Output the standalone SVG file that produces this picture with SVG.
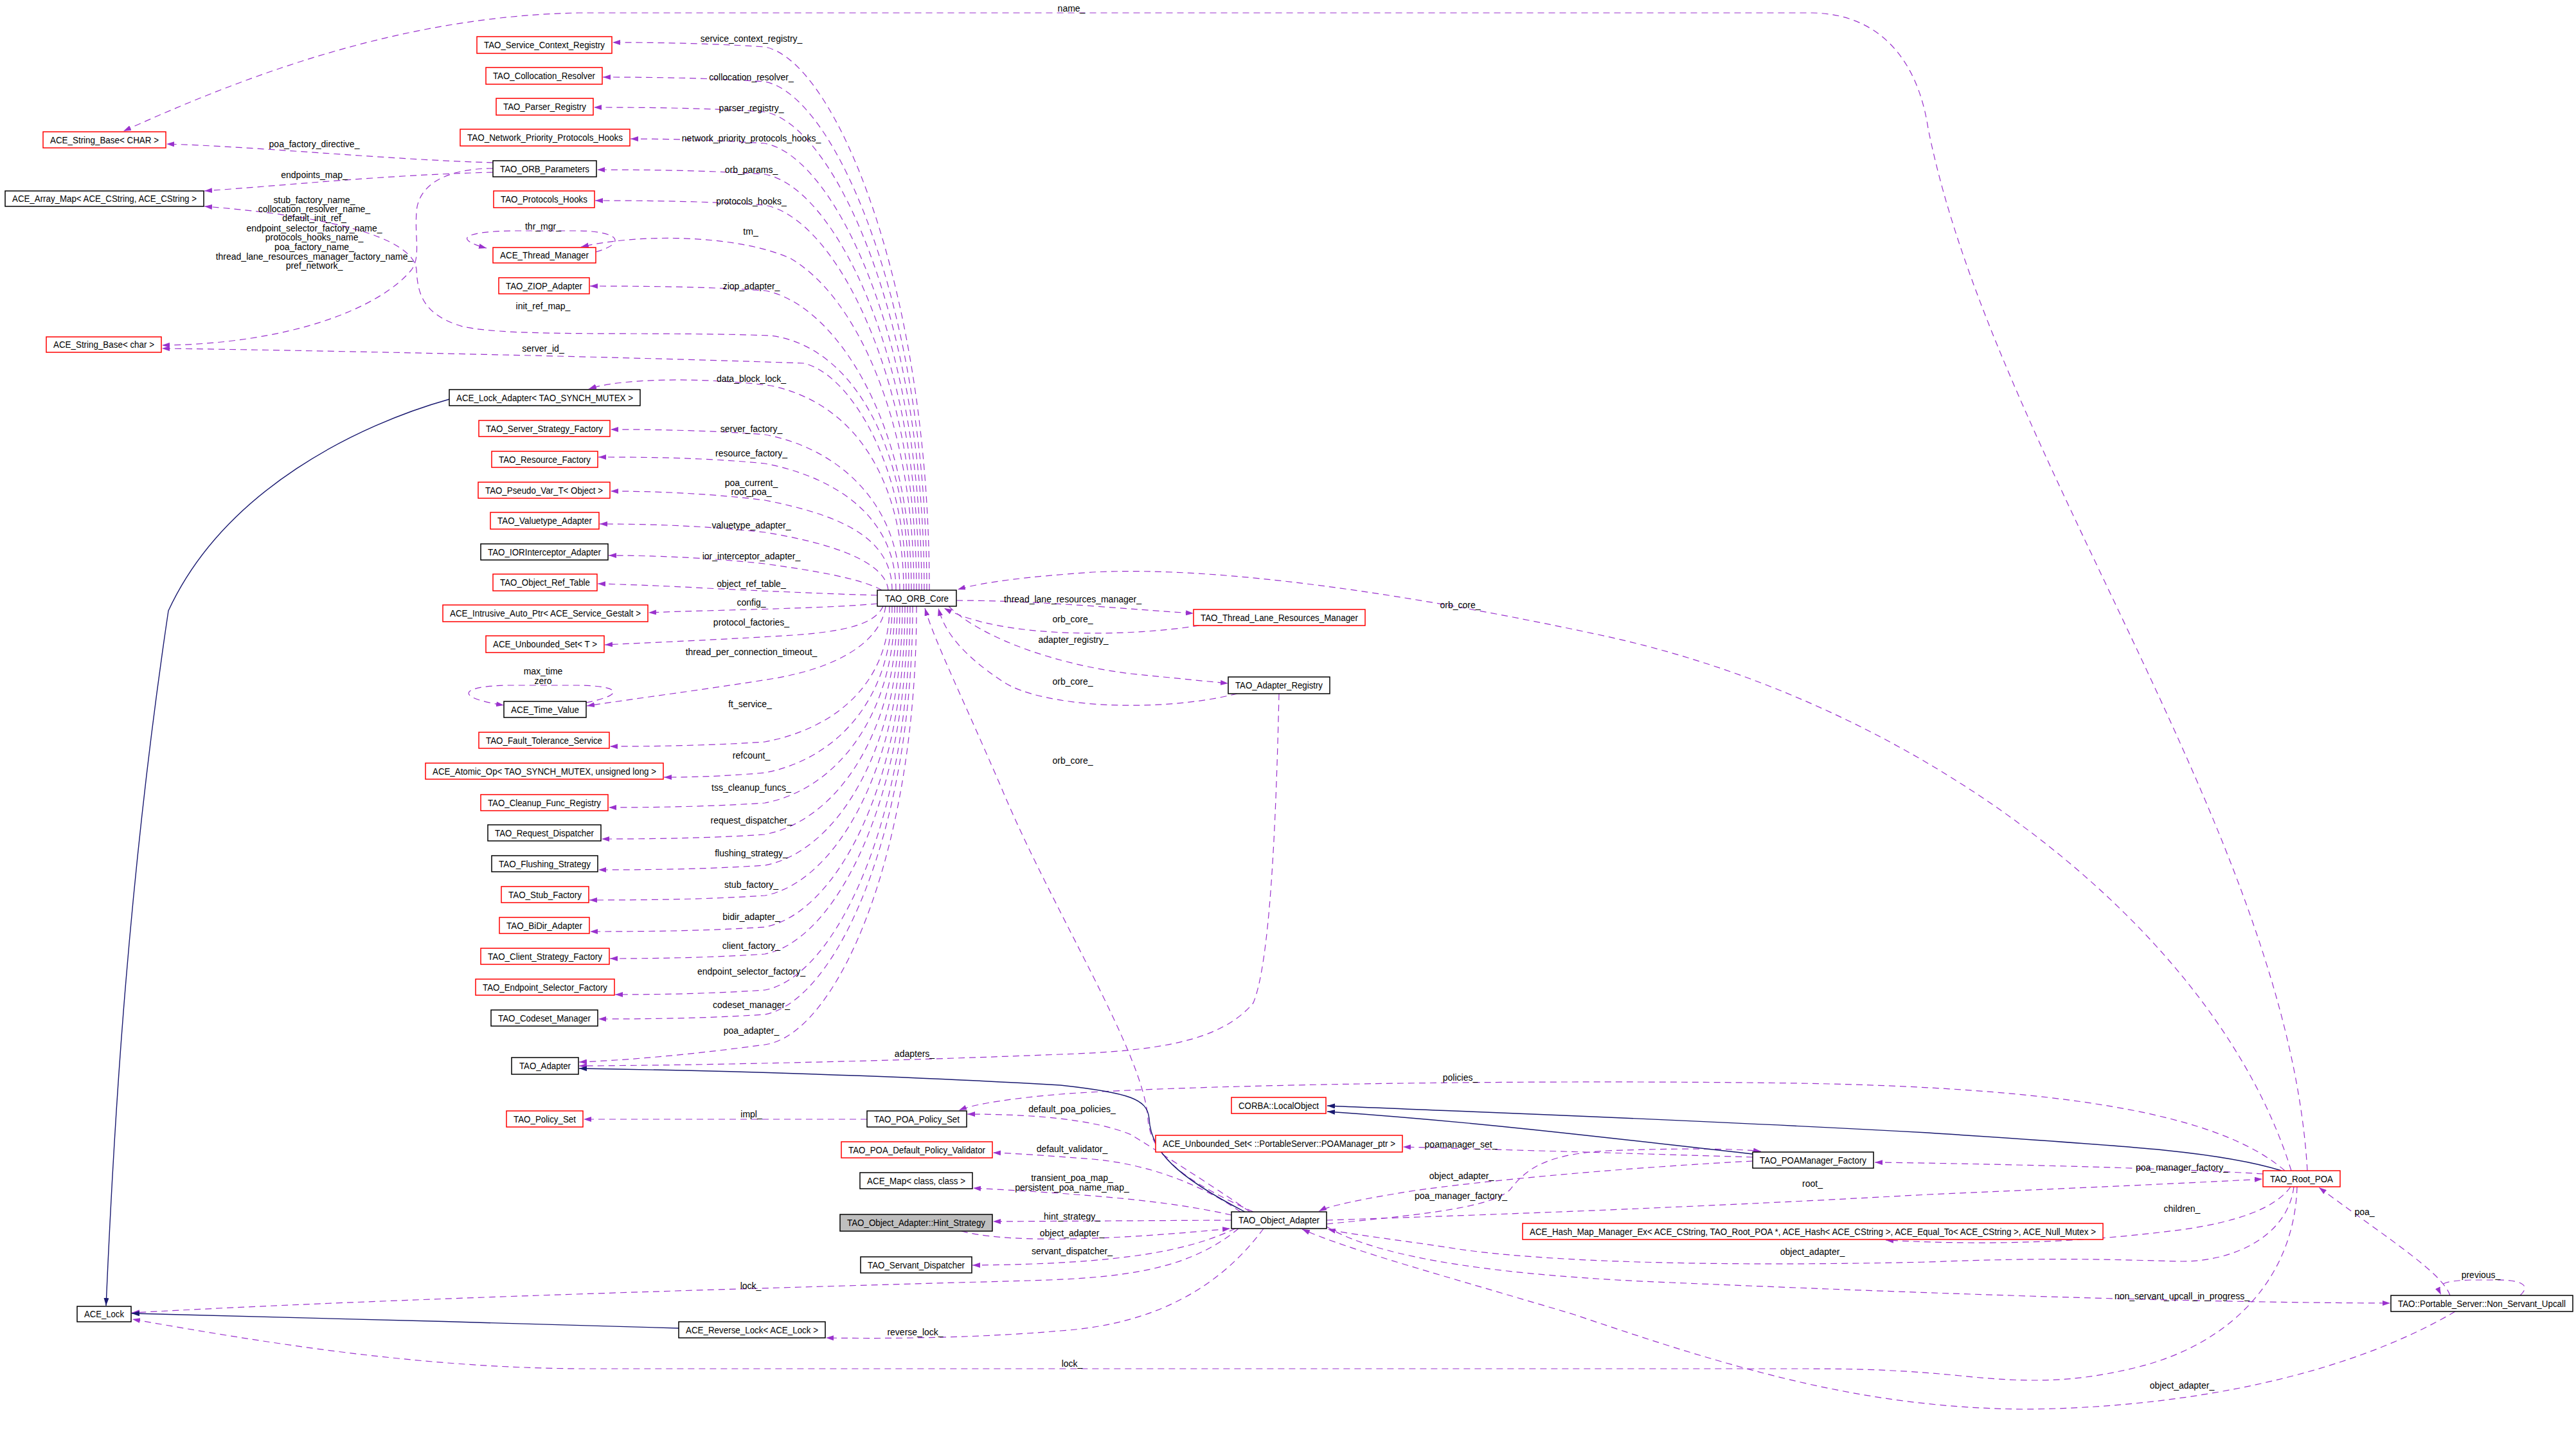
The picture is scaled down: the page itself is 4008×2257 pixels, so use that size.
<svg xmlns="http://www.w3.org/2000/svg" width="4008" height="2257" viewBox="0 0 4008 2257">
<style>
text{font-family:"Liberation Sans",Arial,sans-serif;font-size:14px;fill:#000}
.node text{text-anchor:middle}
.nr rect{fill:#fff;stroke:#ff0000;stroke-width:1.5}
.nb rect{fill:#fff;stroke:#000;stroke-width:1.5}
.nf rect{fill:#bfbfbf;stroke:#000;stroke-width:1.5}
.e{fill:none;stroke:#9a32cd;stroke-width:1.2;stroke-dasharray:10,7;marker-end:url(#ap)}
.i{fill:none;stroke:#191970;stroke-width:1.4;marker-end:url(#an)}
#edge-labels text{text-anchor:middle}
</style>
<defs>
<marker id="ap" viewBox="0 0 12 8" refX="12" refY="4" markerWidth="12" markerHeight="8" markerUnits="userSpaceOnUse" orient="auto"><path d="M0,0 L12,4 L0,8 z" fill="#9a32cd"/></marker>
<marker id="an" viewBox="0 0 12 8" refX="12" refY="4" markerWidth="12" markerHeight="8" markerUnits="userSpaceOnUse" orient="auto"><path d="M0,0 L12,4 L0,8 z" fill="#191970"/></marker>
</defs>
<rect width="4008" height="2257" fill="#fff"/>

<g id="edges">
<!-- Root_POA name_ -->
<path class="e" d="M3590,1821 C3560,1300 3100,700 3000,200 C2985,100 2930,22 2820,20 L900,20 C650,25 420,100 192,204"/>
<!-- ORB_Parameters edges -->
<path class="e" d="M767,253 C600,248 400,228 259,224"/>
<path class="e" d="M767,268 C600,272 450,288 318,297"/>
<path class="e" d="M767,262 C690,262 650,290 648,330 C645,370 655,400 640,420 C590,480 450,535 252,537"/>
<!-- ORB_Core upper -->
<path class="e" d="M1446,918 C1446,449 1300,94 1190,73 C1100,67 1010,66 953,66"/>
<path class="e" d="M1442,918 C1442,479 1300,148 1190,127 C1100,121 1010,120 938,120"/>
<path class="e" d="M1438,918 C1438,505 1300,195 1190,174 C1100,168 1010,167 924,167"/>
<path class="e" d="M1434,918 C1434,532 1300,244 1190,223 C1100,217 1030,216 981,216"/>
<path class="e" d="M1430,918 C1430,558 1300,292 1190,271 C1100,265 1010,264 929,264"/>
<path class="e" d="M1426,918 C1426,585 1300,340 1190,319 C1100,313 1010,312 926,312"/>
<path class="e" d="M1422,918 C1422,650 1330,460 1230,402 C1150,366 1000,362 904,384"/>
<path class="e" d="M1418,918 C1418,658 1300,473 1190,452 C1100,446 1010,445 918,445"/>
<path class="e" d="M1414,918 C1414,700 1330,540 1200,522 C1000,515 800,525 720,508 C660,490 650,460 648,420 C645,380 560,340 318,321"/>
<path class="e" d="M1410,918 C1410,720 1320,580 1250,565 C1000,556 500,545 252,542"/>
<path class="e" d="M1406,918 C1406,760 1340,630 1200,600 C1080,585 960,590 916,605"/>
<path class="e" d="M1400,918 C1400,780 1300,696 1190,676 C1100,669 1010,668 950,668"/>
<path class="e" d="M1394,918 C1394,804 1300,742 1190,721 C1100,712 1010,711 931,711"/>
<path class="e" d="M1388,918 C1388,833 1300,800 1190,778 C1100,767 1010,764 950,764"/>
<path class="e" d="M1382,918 C1378,875 1300,846 1190,828 C1100,818 1010,815 933,815"/>
<path class="e" d="M1372,918 C1340,900 1270,888 1190,877 C1100,867 1010,864 947,864"/>
<path class="e" d="M1365,926 C1300,924 1200,920 1100,915 C1030,911 970,909 930,908"/>
<path class="e" d="M1365,939 C1300,945 1200,947 1100,950 C1060,951 1030,952 1009,953"/>
<path class="e" d="M1374,943 C1360,975 1300,985 1200,990 C1100,996 1000,1000 941,1003"/>
<path class="e" d="M1378,943 C1370,1000 1300,1040 1200,1056 C1100,1072 1000,1085 913,1098"/>
<!-- self loops -->
<path class="e" d="M927,392 C975,378 965,360 900,359 L800,359 C720,360 705,372 757,386"/>
<path class="e" d="M912,1093 C975,1080 965,1067 900,1066 L790,1066 C715,1067 705,1085 784,1097"/>
<!-- ORB_Core lower -->
<path class="e" d="M1384,943 C1384,1063 1300,1133 1190,1154 C1100,1160 1010,1161 949,1161"/>
<path class="e" d="M1388,943 C1388,1089 1300,1181 1190,1202 C1120,1208 1070,1209 1033,1209"/>
<path class="e" d="M1392,943 C1392,1115 1300,1228 1190,1249 C1100,1255 1010,1256 947,1256"/>
<path class="e" d="M1396,943 C1396,1142 1300,1277 1190,1298 C1100,1304 1010,1305 936,1305"/>
<path class="e" d="M1400,943 C1400,1169 1300,1325 1190,1346 C1100,1352 1010,1353 931,1353"/>
<path class="e" d="M1404,943 C1404,1194 1300,1372 1190,1393 C1100,1399 1010,1400 917,1400"/>
<path class="e" d="M1408,943 C1408,1221 1300,1421 1190,1442 C1100,1448 1010,1449 918,1449"/>
<path class="e" d="M1412,943 C1412,1244 1300,1463 1190,1484 C1100,1490 1010,1491 949,1491"/>
<path class="e" d="M1416,943 C1416,1275 1300,1519 1190,1540 C1100,1546 1020,1547 957,1547"/>
<path class="e" d="M1420,943 C1420,1296 1300,1557 1190,1578 C1100,1584 1010,1585 931,1585"/>
<path class="e" d="M1426,943 C1426,1333 1300,1610 1190,1625 C1100,1637 1000,1648 901,1652"/>
<!-- ORB_Core right side -->
<path class="e" d="M1488,934 C1620,934 1760,948 1857,954"/>
<path class="e" d="M1866,973 C1760,990 1560,995 1469,946"/>
<path class="e" d="M1476,943 C1530,995 1650,1035 1760,1048 C1830,1055 1880,1060 1911,1063"/>
<path class="e" d="M1925,1079 C1800,1110 1620,1100 1560,1060 C1500,1020 1470,985 1460,946"/>
<path class="e" d="M1990,1079 C1985,1300 1975,1500 1950,1560 C1900,1620 1800,1635 1650,1640 C1400,1650 1100,1657 901,1658"/>
<path class="e" d="M1950,1885 C1850,1840 1790,1800 1786,1740 C1780,1640 1640,1420 1560,1230 C1500,1090 1455,1000 1439,946"/>
<path class="e" d="M3565,1821 C3450,1450 3000,1100 2500,990 C2200,925 1900,880 1700,890 C1600,897 1530,905 1490,917"/>
<!-- POA policy set -->
<path class="e" d="M1349,1741 L908,1741"/>
<path class="e" d="M3555,1821 C3450,1730 3200,1692 2800,1685 C2300,1678 1800,1690 1650,1702 C1580,1708 1520,1716 1492,1727"/>
<!-- Object_Adapter left targets -->
<path class="e" d="M1945,1885 C1880,1840 1800,1790 1760,1765 C1700,1740 1600,1733 1505,1733"/>
<path class="e" d="M1930,1885 C1880,1850 1800,1812 1700,1803 C1620,1797 1580,1794 1545,1793"/>
<path class="e" d="M1916,1890 C1820,1868 1700,1858 1514,1848"/>
<path class="e" d="M1916,1898 L1545,1900"/>
<path class="e" d="M1496,1915 C1560,1932 1700,1932 1914,1911"/>
<path class="e" d="M1922,1911 C1850,1945 1750,1966 1513,1968"/>
<path class="e" d="M1927,1911 C1850,1975 1750,1988 1600,1992 C1200,2003 600,2020 205,2042"/>
<path class="e" d="M1966,1911 C1900,2000 1800,2060 1650,2070 C1500,2083 1350,2082 1285,2081"/>
<!-- POAManager factory etc -->
<path class="e" d="M2727,1800 C2600,1796 2400,1790 2183,1784"/>
<path class="e" d="M2727,1806 C2500,1818 2300,1838 2200,1852 C2120,1865 2070,1875 2052,1884"/>
<path class="e" d="M2064,1904 C2200,1890 2320,1880 2350,1850 C2380,1810 2420,1795 2500,1790 C2600,1786 2700,1786 2740,1791"/>
<path class="e" d="M2064,1898 C2300,1890 2600,1880 3000,1858 C3300,1845 3450,1838 3520,1834"/>
<path class="e" d="M3521,1826 C3400,1818 3100,1810 2917,1808"/>
<path class="e" d="M3564,1846 C3540,1880 3480,1900 3400,1912 C3250,1932 3100,1938 2934,1929"/>
<path class="e" d="M3569,1846 C3560,1920 3480,1962 3395,1962 C3300,1960 3200,1955 3000,1963 C2700,1970 2400,1965 2250,1940 C2150,1925 2100,1920 2066,1912"/>
<path class="e" d="M2064,1908 C2150,1960 2350,1985 2600,1995 C3000,2012 3400,2026 3719,2027"/>
<path class="e" d="M3574,1846 C3570,1980 3480,2090 3320,2128 C3220,2152 3150,2150 3050,2140 C2950,2130 2880,2129 2800,2129 L900,2129 C650,2127 420,2090 206,2052"/>
<path class="e" d="M3820,2040 C3650,2140 3400,2190 3150,2192 C2900,2190 2700,2130 2450,2045 C2250,1985 2100,1945 2026,1912"/>
<path class="e" d="M3812,2015 C3800,1980 3720,1930 3608,1847"/>
<path class="e" d="M3921,2015 C3940,1998 3920,1990 3880,1991 L3845,1991 C3800,1992 3790,1998 3798,2014"/>
<!-- inheritance -->
<path class="i" d="M1937,1885 C1830,1830 1790,1790 1788,1740 C1785,1710 1760,1700 1650,1688 C1400,1673 1100,1665 901,1662"/>
<path class="i" d="M2727,1795 C2500,1770 2300,1745 2065,1729"/>
<path class="i" d="M3550,1821 C3450,1790 3300,1782 3000,1762 C2600,1740 2300,1730 2065,1720"/>
<path class="i" d="M699,621 C560,660 350,760 262,950 C195,1400 175,1800 165,2031"/>
<path class="i" d="M1056,2066 C800,2058 400,2048 205,2043"/>
</g>

<g id="edge-labels">
<text x="1667" y="18">name_</text>
<text x="489" y="229">poa_factory_directive_</text>
<text x="489" y="277">endpoints_map_</text>
<text x="489" y="316">stub_factory_name_</text>
<text x="489" y="330">collocation_resolver_name_</text>
<text x="489" y="344">default_init_ref_</text>
<text x="489" y="360">endpoint_selector_factory_name_</text>
<text x="489" y="374">protocols_hooks_name_</text>
<text x="489" y="389">poa_factory_name_</text>
<text x="489" y="404">thread_lane_resources_manager_factory_name_</text>
<text x="489" y="418">pref_network_</text>
<text x="1169" y="65">service_context_registry_</text>
<text x="1169" y="125">collocation_resolver_</text>
<text x="1169" y="173">parser_registry_</text>
<text x="1169" y="220">network_priority_protocols_hooks_</text>
<text x="1169" y="269">orb_params_</text>
<text x="1169" y="318">protocols_hooks_</text>
<text x="845" y="357">thr_mgr_</text>
<text x="1168" y="365">tm_</text>
<text x="1169" y="450">ziop_adapter_</text>
<text x="845" y="481">init_ref_map_</text>
<text x="845" y="547">server_id_</text>
<text x="1169" y="594">data_block_lock_</text>
<text x="1169" y="672">server_factory_</text>
<text x="1169" y="710">resource_factory_</text>
<text x="1169" y="756">poa_current_</text>
<text x="1169" y="770">root_poa_</text>
<text x="1169" y="822">valuetype_adapter_</text>
<text x="1169" y="870">ior_interceptor_adapter_</text>
<text x="1169" y="913">object_ref_table_</text>
<text x="1169" y="942">config_</text>
<text x="1169" y="973">protocol_factories_</text>
<text x="1169" y="1019">thread_per_connection_timeout_</text>
<text x="845" y="1049">max_time</text>
<text x="845" y="1064">zero</text>
<text x="1167" y="1100">ft_service_</text>
<text x="1169" y="1180">refcount_</text>
<text x="1169" y="1230">tss_cleanup_funcs_</text>
<text x="1169" y="1281">request_dispatcher_</text>
<text x="1169" y="1332">flushing_strategy_</text>
<text x="1169" y="1381">stub_factory_</text>
<text x="1169" y="1431">bidir_adapter_</text>
<text x="1169" y="1476">client_factory_</text>
<text x="1169" y="1516">endpoint_selector_factory_</text>
<text x="1169" y="1568">codeset_manager_</text>
<text x="1169" y="1608">poa_adapter_</text>
<text x="1423" y="1644">adapters_</text>
<text x="1169" y="1738">impl_</text>
<text x="1168" y="2005">lock_</text>
<text x="1424" y="2077">reverse_lock_</text>
<text x="1669" y="937">thread_lane_resources_manager_</text>
<text x="1669" y="968">orb_core_</text>
<text x="1670" y="1000">adapter_registry_</text>
<text x="1669" y="1065">orb_core_</text>
<text x="1669" y="1188">orb_core_</text>
<text x="2272" y="946">orb_core_</text>
<text x="2272" y="1681">policies_</text>
<text x="1668" y="1730">default_poa_policies_</text>
<text x="1668" y="1792">default_validator_</text>
<text x="1668" y="1837">transient_poa_map_</text>
<text x="1668" y="1852">persistent_poa_name_map_</text>
<text x="1668" y="1897">hint_strategy_</text>
<text x="1668" y="1923">object_adapter_</text>
<text x="1668" y="1951">servant_dispatcher_</text>
<text x="2273" y="1785">poamanager_set_</text>
<text x="2274" y="1834">object_adapter_</text>
<text x="2273" y="1865">poa_manager_factory_</text>
<text x="2820" y="1846">root_</text>
<text x="2820" y="1952">object_adapter_</text>
<text x="3395" y="1821">poa_manager_factory_</text>
<text x="3395" y="1885">children_</text>
<text x="3679" y="1890">poa_</text>
<text x="3860" y="1988">previous_</text>
<text x="3395" y="2021">non_servant_upcall_in_progress_</text>
<text x="3395" y="2160">object_adapter_</text>
<text x="1668" y="2126">lock_</text>
</g>

<g id="n_ACE_String_Base_CHAR" class="node nr"><rect x="67" y="205" width="191" height="25"/><text x="162.5" y="222.5" textLength="169" lengthAdjust="spacingAndGlyphs">ACE_String_Base&lt; CHAR &gt;</text></g>
<g id="n_ACE_Array_Map" class="node nb"><rect x="8" y="297" width="309" height="24"/><text x="162.5" y="314" textLength="287" lengthAdjust="spacingAndGlyphs">ACE_Array_Map&lt; ACE_CString, ACE_CString &gt;</text></g>
<g id="n_ACE_String_Base_char" class="node nr"><rect x="72" y="524" width="179" height="24"/><text x="161.5" y="541" textLength="157" lengthAdjust="spacingAndGlyphs">ACE_String_Base&lt; char &gt;</text></g>
<g id="n_ACE_Lock" class="node nb"><rect x="120" y="2032" width="84" height="24"/><text x="162" y="2049" textLength="62" lengthAdjust="spacingAndGlyphs">ACE_Lock</text></g>

<g id="n_TAO_Service_Context_Registry" class="node nr"><rect x="742" y="57" width="210" height="26"/><text x="847" y="75" textLength="188" lengthAdjust="spacingAndGlyphs">TAO_Service_Context_Registry</text></g>
<g id="n_TAO_Collocation_Resolver" class="node nr"><rect x="756" y="105" width="181" height="26"/><text x="846.5" y="123" textLength="159" lengthAdjust="spacingAndGlyphs">TAO_Collocation_Resolver</text></g>
<g id="n_TAO_Parser_Registry" class="node nr"><rect x="772" y="153" width="151" height="26"/><text x="847.5" y="171" textLength="129" lengthAdjust="spacingAndGlyphs">TAO_Parser_Registry</text></g>
<g id="n_TAO_Network_Priority_Protocols_Hooks" class="node nr"><rect x="716" y="201" width="264" height="26"/><text x="848" y="219" textLength="242" lengthAdjust="spacingAndGlyphs">TAO_Network_Priority_Protocols_Hooks</text></g>
<g id="n_TAO_ORB_Parameters" class="node nb"><rect x="767" y="250" width="161" height="25"/><text x="847.5" y="267.5" textLength="139" lengthAdjust="spacingAndGlyphs">TAO_ORB_Parameters</text></g>
<g id="n_TAO_Protocols_Hooks" class="node nr"><rect x="768" y="297" width="157" height="26"/><text x="846.5" y="315" textLength="135" lengthAdjust="spacingAndGlyphs">TAO_Protocols_Hooks</text></g>
<g id="n_ACE_Thread_Manager" class="node nr"><rect x="767" y="385" width="160" height="24"/><text x="847" y="402" textLength="138" lengthAdjust="spacingAndGlyphs">ACE_Thread_Manager</text></g>
<g id="n_TAO_ZIOP_Adapter" class="node nr"><rect x="776" y="432" width="141" height="25"/><text x="846.5" y="449.5" textLength="119" lengthAdjust="spacingAndGlyphs">TAO_ZIOP_Adapter</text></g>
<g id="n_ACE_Lock_Adapter" class="node nb"><rect x="699" y="606" width="297" height="25"/><text x="847.5" y="623.5" textLength="275" lengthAdjust="spacingAndGlyphs">ACE_Lock_Adapter&lt; TAO_SYNCH_MUTEX &gt;</text></g>
<g id="n_TAO_Server_Strategy_Factory" class="node nr"><rect x="745" y="654" width="204" height="25"/><text x="847" y="671.5" textLength="182" lengthAdjust="spacingAndGlyphs">TAO_Server_Strategy_Factory</text></g>
<g id="n_TAO_Resource_Factory" class="node nr"><rect x="765" y="702" width="165" height="25"/><text x="847.5" y="719.5" textLength="143" lengthAdjust="spacingAndGlyphs">TAO_Resource_Factory</text></g>
<g id="n_TAO_Pseudo_Var_T" class="node nr"><rect x="744" y="750" width="205" height="25"/><text x="846.5" y="767.5" textLength="183" lengthAdjust="spacingAndGlyphs">TAO_Pseudo_Var_T&lt; Object &gt;</text></g>
<g id="n_TAO_Valuetype_Adapter" class="node nr"><rect x="763" y="797" width="169" height="26"/><text x="847.5" y="815" textLength="147" lengthAdjust="spacingAndGlyphs">TAO_Valuetype_Adapter</text></g>
<g id="n_TAO_IORInterceptor_Adapter" class="node nb"><rect x="748" y="846" width="198" height="25"/><text x="847" y="863.5" textLength="176" lengthAdjust="spacingAndGlyphs">TAO_IORInterceptor_Adapter</text></g>
<g id="n_TAO_Object_Ref_Table" class="node nr"><rect x="767" y="893" width="162" height="26"/><text x="848" y="911" textLength="140" lengthAdjust="spacingAndGlyphs">TAO_Object_Ref_Table</text></g>
<g id="n_ACE_Intrusive_Auto_Ptr" class="node nr"><rect x="689" y="941" width="319" height="26"/><text x="848.5" y="959" textLength="297" lengthAdjust="spacingAndGlyphs">ACE_Intrusive_Auto_Ptr&lt; ACE_Service_Gestalt &gt;</text></g>
<g id="n_ACE_Unbounded_Set_T" class="node nr"><rect x="756" y="989" width="184" height="26"/><text x="848" y="1007" textLength="162" lengthAdjust="spacingAndGlyphs">ACE_Unbounded_Set&lt; T &gt;</text></g>
<g id="n_ACE_Time_Value" class="node nb"><rect x="784" y="1091" width="128" height="25"/><text x="848" y="1108.5" textLength="106" lengthAdjust="spacingAndGlyphs">ACE_Time_Value</text></g>
<g id="n_TAO_Fault_Tolerance_Service" class="node nr"><rect x="745" y="1139" width="203" height="25"/><text x="846.5" y="1156.5" textLength="181" lengthAdjust="spacingAndGlyphs">TAO_Fault_Tolerance_Service</text></g>
<g id="n_ACE_Atomic_Op" class="node nr"><rect x="662" y="1187" width="370" height="25"/><text x="847" y="1204.5" textLength="348" lengthAdjust="spacingAndGlyphs">ACE_Atomic_Op&lt; TAO_SYNCH_MUTEX, unsigned long &gt;</text></g>
<g id="n_TAO_Cleanup_Func_Registry" class="node nr"><rect x="748" y="1236" width="198" height="25"/><text x="847" y="1253.5" textLength="176" lengthAdjust="spacingAndGlyphs">TAO_Cleanup_Func_Registry</text></g>
<g id="n_TAO_Request_Dispatcher" class="node nb"><rect x="759" y="1283" width="176" height="25"/><text x="847" y="1300.5" textLength="154" lengthAdjust="spacingAndGlyphs">TAO_Request_Dispatcher</text></g>
<g id="n_TAO_Flushing_Strategy" class="node nb"><rect x="765" y="1331" width="165" height="25"/><text x="847.5" y="1348.5" textLength="143" lengthAdjust="spacingAndGlyphs">TAO_Flushing_Strategy</text></g>
<g id="n_TAO_Stub_Factory" class="node nr"><rect x="780" y="1379" width="136" height="25"/><text x="848" y="1396.5" textLength="114" lengthAdjust="spacingAndGlyphs">TAO_Stub_Factory</text></g>
<g id="n_TAO_BiDir_Adapter" class="node nr"><rect x="777" y="1427" width="140" height="25"/><text x="847" y="1444.5" textLength="118" lengthAdjust="spacingAndGlyphs">TAO_BiDir_Adapter</text></g>
<g id="n_TAO_Client_Strategy_Factory" class="node nr"><rect x="748" y="1475" width="200" height="25"/><text x="848" y="1492.5" textLength="178" lengthAdjust="spacingAndGlyphs">TAO_Client_Strategy_Factory</text></g>
<g id="n_TAO_Endpoint_Selector_Factory" class="node nr"><rect x="740" y="1523" width="216" height="25"/><text x="848" y="1540.5" textLength="194" lengthAdjust="spacingAndGlyphs">TAO_Endpoint_Selector_Factory</text></g>
<g id="n_TAO_Codeset_Manager" class="node nb"><rect x="764" y="1571" width="166" height="25"/><text x="847" y="1588.5" textLength="144" lengthAdjust="spacingAndGlyphs">TAO_Codeset_Manager</text></g>
<g id="n_TAO_Adapter" class="node nb"><rect x="796" y="1645" width="104" height="26"/><text x="848" y="1663" textLength="80" lengthAdjust="spacingAndGlyphs">TAO_Adapter</text></g>
<g id="n_TAO_Policy_Set" class="node nr"><rect x="788" y="1728" width="119" height="25"/><text x="847.5" y="1745.5" textLength="97" lengthAdjust="spacingAndGlyphs">TAO_Policy_Set</text></g>

<g id="n_TAO_ORB_Core" class="node nb"><rect x="1365" y="918" width="123" height="25"/><text x="1426.5" y="935.5" textLength="99" lengthAdjust="spacingAndGlyphs">TAO_ORB_Core</text></g>
<g id="n_TAO_Thread_Lane_Resources_Manager" class="node nr"><rect x="1857" y="948" width="267" height="25"/><text x="1990.5" y="965.5" textLength="245" lengthAdjust="spacingAndGlyphs">TAO_Thread_Lane_Resources_Manager</text></g>
<g id="n_TAO_Adapter_Registry" class="node nb"><rect x="1911" y="1053" width="158" height="26"/><text x="1990" y="1071" textLength="136" lengthAdjust="spacingAndGlyphs">TAO_Adapter_Registry</text></g>
<g id="n_TAO_POA_Policy_Set" class="node nb"><rect x="1349" y="1728" width="155" height="25"/><text x="1426.5" y="1745.5" textLength="133" lengthAdjust="spacingAndGlyphs">TAO_POA_Policy_Set</text></g>
<g id="n_TAO_POA_Default_Policy_Validator" class="node nr"><rect x="1309" y="1776" width="235" height="25"/><text x="1426.5" y="1793.5" textLength="213" lengthAdjust="spacingAndGlyphs">TAO_POA_Default_Policy_Validator</text></g>
<g id="n_ACE_Map" class="node nb"><rect x="1338" y="1824" width="175" height="25"/><text x="1425.5" y="1841.5" textLength="153" lengthAdjust="spacingAndGlyphs">ACE_Map&lt; class, class &gt;</text></g>
<g id="n_Hint_Strategy" class="node nf"><rect x="1307" y="1889" width="237" height="26"/><text x="1425.5" y="1907" textLength="215" lengthAdjust="spacingAndGlyphs">TAO_Object_Adapter::Hint_Strategy</text></g>
<g id="n_TAO_Servant_Dispatcher" class="node nb"><rect x="1339" y="1955" width="173" height="25"/><text x="1425.5" y="1972.5" textLength="151" lengthAdjust="spacingAndGlyphs">TAO_Servant_Dispatcher</text></g>
<g id="n_ACE_Reverse_Lock" class="node nb"><rect x="1056" y="2056" width="228" height="25"/><text x="1170" y="2073.5" textLength="206" lengthAdjust="spacingAndGlyphs">ACE_Reverse_Lock&lt; ACE_Lock &gt;</text></g>
<g id="n_CORBA_LocalObject" class="node nr"><rect x="1916" y="1707" width="147" height="25"/><text x="1989.5" y="1724.5" textLength="125" lengthAdjust="spacingAndGlyphs">CORBA::LocalObject</text></g>
<g id="n_ACE_Unbounded_Set_POAManager" class="node nr"><rect x="1798" y="1766" width="384" height="26"/><text x="1990" y="1784" textLength="362" lengthAdjust="spacingAndGlyphs">ACE_Unbounded_Set&lt; ::PortableServer::POAManager_ptr &gt;</text></g>
<g id="n_TAO_Object_Adapter" class="node nb"><rect x="1916" y="1885" width="148" height="26"/><text x="1990" y="1903" textLength="126" lengthAdjust="spacingAndGlyphs">TAO_Object_Adapter</text></g>
<g id="n_TAO_POAManager_Factory" class="node nb"><rect x="2727" y="1792" width="188" height="25"/><text x="2821" y="1809.5" textLength="166" lengthAdjust="spacingAndGlyphs">TAO_POAManager_Factory</text></g>
<g id="n_ACE_Hash_Map_Manager_Ex" class="node nr"><rect x="2369" y="1903" width="903" height="25"/><text x="2820.5" y="1920.5" textLength="881" lengthAdjust="spacingAndGlyphs">ACE_Hash_Map_Manager_Ex&lt; ACE_CString, TAO_Root_POA *, ACE_Hash&lt; ACE_CString &gt;, ACE_Equal_To&lt; ACE_CString &gt;, ACE_Null_Mutex &gt;</text></g>
<g id="n_TAO_Root_POA" class="node nr"><rect x="3521" y="1821" width="120" height="25"/><text x="3581" y="1838.5" textLength="98" lengthAdjust="spacingAndGlyphs">TAO_Root_POA</text></g>
<g id="n_Non_Servant_Upcall" class="node nb"><rect x="3720" y="2015" width="283" height="25"/><text x="3861.5" y="2032.5" textLength="261" lengthAdjust="spacingAndGlyphs">TAO::Portable_Server::Non_Servant_Upcall</text></g>
</svg>
